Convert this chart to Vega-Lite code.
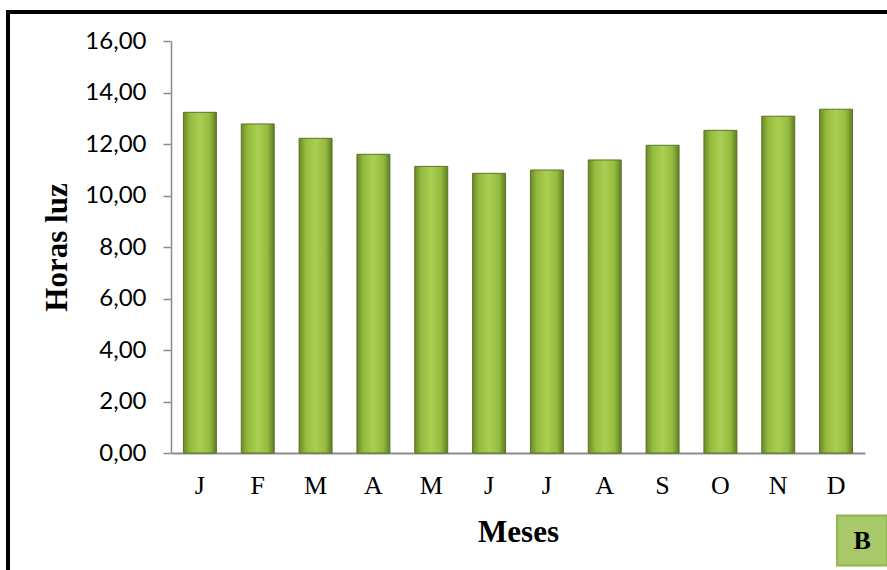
{
  "$schema": "https://vega.github.io/schema/vega-lite/v6.json",
  "width": 694,
  "height": 412,
  "autosize": {"type": "none"},
  "padding": {"left": 171, "top": 41, "right": 22, "bottom": 117},
  "background": "white",
  "config": {
    "view": {"stroke": null},
    "locale": {"number": {"decimal": ",", "thousands": ".", "grouping": [3], "currency": ["", " €"]}}
  },
  "datasets": {
    "horas": [
      {"id": "01", "mes": "J", "horas": 13.23},
      {"id": "02", "mes": "F", "horas": 12.78},
      {"id": "03", "mes": "M", "horas": 12.22},
      {"id": "04", "mes": "A", "horas": 11.60},
      {"id": "05", "mes": "M", "horas": 11.13},
      {"id": "06", "mes": "J", "horas": 10.86},
      {"id": "07", "mes": "J", "horas": 10.99},
      {"id": "08", "mes": "A", "horas": 11.38},
      {"id": "09", "mes": "S", "horas": 11.95},
      {"id": "10", "mes": "O", "horas": 12.53},
      {"id": "11", "mes": "N", "horas": 13.08},
      {"id": "12", "mes": "D", "horas": 13.35}
    ]
  },
  "layer": [
    {
      "data": {"name": "horas"},
      "mark": {
        "type": "bar",
        "stroke": "#5b7329",
        "strokeWidth": 1,
        "color": {
          "gradient": "linear", "x1": 0, "x2": 1, "y1": 0, "y2": 0,
          "stops": [
            {"offset": 0, "color": "#6a8a25"},
            {"offset": 0.2, "color": "#94bb3f"},
            {"offset": 0.5, "color": "#aacf52"},
            {"offset": 0.8, "color": "#94bb3f"},
            {"offset": 1, "color": "#5f7d22"}
          ]
        }
      },
      "encoding": {
        "x": {
          "field": "id", "type": "ordinal",
          "scale": {"domain": ["01","02","03","04","05","06","07","08","09","10","11","12"], "paddingInner": 0.43, "paddingOuter": 0.215},
          "axis": {
            "title": "Meses",
            "labelExpr": "['J','F','M','A','M','J','J','A','S','O','N','D'][toNumber(datum.value)-1]",
            "labelAngle": 0,
            "labelFont": "Liberation Serif",
            "labelFontSize": 26,
            "labelFontWeight": "normal",
            "labelColor": "black",
            "labelPadding": 19,
            "ticks": false,
            "domainColor": "#8c8c8c",
            "domainWidth": 2,
            "titleFont": "Liberation Serif",
            "titleFontSize": 31,
            "titleFontWeight": "bold",
            "titleColor": "black",
            "titlePadding": 19
          }
        },
        "y": {
          "field": "horas", "type": "quantitative",
          "scale": {"domain": [0, 16], "nice": false},
          "axis": {
            "title": "Horas luz",
            "values": [0, 2, 4, 6, 8, 10, 12, 14, 16],
            "format": ".2f",
            "grid": false,
            "labelFont": "Lato",
            "labelFontSize": 24,
            "labelFontWeight": "normal",
            "labelColor": "black",
            "labelPadding": 17,
            "tickSize": 8,
            "tickColor": "#8c8c8c",
            "tickWidth": 1.5,
            "domainColor": "#8c8c8c",
            "domainWidth": 1.5,
            "titleFont": "Liberation Serif",
            "titleFontSize": 31,
            "titleFontWeight": "bold",
            "titleColor": "black",
            "titlePadding": 11
          }
        }
      }
    },
    {
      "data": {"values": [{"label": "B", "pos": "12", "yv": -3.4}]},
      "mark": {"type": "point", "shape": "square", "size": 2500, "filled": true, "xOffset": 26, "opacity": 1, "fill": "#a9c96a", "stroke": "#8fb34f", "strokeWidth": 2},
      "encoding": {
        "x": {"field": "pos", "type": "ordinal"},
        "y": {"field": "yv", "type": "quantitative"}
      }
    },
    {
      "data": {"values": [{"label": "B", "pos": "12", "yv": -3.4}]},
      "mark": {"type": "text", "font": "Liberation Serif", "fontSize": 26, "fontWeight": "bold", "color": "black", "xOffset": 26, "baseline": "middle", "align": "center"},
      "encoding": {
        "x": {"field": "pos", "type": "ordinal"},
        "y": {"field": "yv", "type": "quantitative"},
        "text": {"field": "label"}
      }
    },
    {
      "data": {"values": [{}]},
      "mark": {"type": "rect", "x": -163, "y": -29, "x2": 726, "y2": 540, "fill": null, "stroke": "black", "strokeWidth": 4, "clip": false},
      "encoding": {}
    }
  ]
}
